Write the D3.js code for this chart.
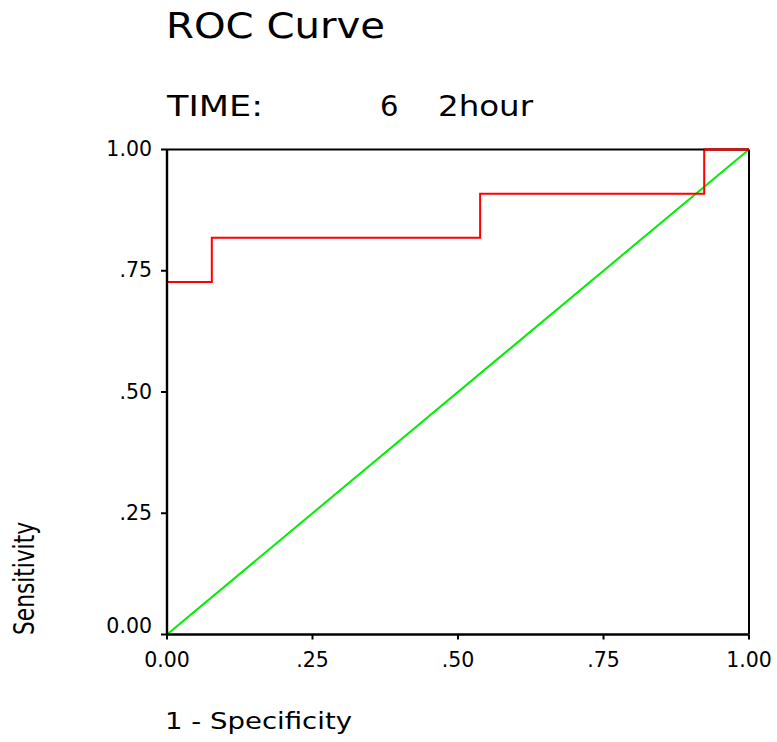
<!DOCTYPE html>
<html>
<head>
<meta charset="utf-8">
<script src="https://cdn.jsdelivr.net/npm/d3@7"></script>
<style>
  html, body { margin: 0; padding: 0; background: #fff; }
  svg { display: block; }
  text { font-family: "DejaVu Sans", Verdana, sans-serif; fill: #000; }
</style>
</head>
<body>
<script>
// ROC step curve: (1 - specificity, sensitivity) vertices
const fpr = [0.000, 0.000, 0.077, 0.077, 0.538, 0.538, 0.923, 0.923, 1.000];
const tpr = [0.000, 0.727, 0.727, 0.818, 0.818, 0.909, 0.909, 1.000, 1.000];

// Chance diagonal
const refX = [0, 1];
const refY = [0, 1];

// Axis ticks and their labels
const tickValues = [0, 0.25, 0.5, 0.75, 1];
const tickLabels = ["0.00", ".25", ".50", ".75", "1.00"];

const W = 777, H = 742;
const svg = d3.select("body").append("svg").attr("width", W).attr("height", H);

const x = d3.scaleLinear().domain([0, 1]).range([167, 749]);
const y = d3.scaleLinear().domain([0, 1]).range([634.5, 149.5]);
const fmt = d => tickLabels[tickValues.indexOf(d)];

// Titles
svg.append("text").attr("x", 166).attr("y", 38)
  .attr("font-size", 35).attr("textLength", 219).attr("lengthAdjust", "spacingAndGlyphs")
  .text("ROC Curve");
svg.append("text").attr("x", 167).attr("y", 116)
  .attr("font-size", 29).attr("textLength", 96).attr("lengthAdjust", "spacingAndGlyphs")
  .text("TIME:");
svg.append("text").attr("x", 380).attr("y", 116)
  .attr("font-size", 29)
  .text("6");
svg.append("text").attr("x", 438).attr("y", 116)
  .attr("font-size", 29).attr("textLength", 95).attr("lengthAdjust", "spacingAndGlyphs")
  .text("2hour");

// Curves
const line = d3.line().x(d => x(d[0])).y(d => y(d[1]));

svg.append("path")
  .datum(refX.map((v, i) => [v, refY[i]]))
  .attr("d", line)
  .attr("fill", "none").attr("stroke", "#00ee00").attr("stroke-width", 2);

svg.append("path")
  .datum(fpr.map((v, i) => [v, tpr[i]]))
  .attr("d", line)
  .attr("fill", "none").attr("stroke", "#ff0000").attr("stroke-width", 2);

// Frame: top and right borders
svg.append("line").attr("x1", x(0)).attr("x2", x(1)).attr("y1", y(1)).attr("y2", y(1))
  .attr("stroke", "#000").attr("stroke-width", 2);
svg.append("line").attr("x1", x(1)).attr("x2", x(1)).attr("y1", y(0)).attr("y2", y(1))
  .attr("stroke", "#000").attr("stroke-width", 2);
// red segment riding on the top border
svg.append("path")
  .datum(fpr.map((v, i) => [v, tpr[i]]).filter(d => d[1] === 1))
  .attr("d", line)
  .attr("fill", "none").attr("stroke", "#ff0000").attr("stroke-width", 2);

// Axes
const gx = svg.append("g").attr("transform", `translate(0,${y(0)})`)
  .call(d3.axisBottom(x).tickValues(tickValues).tickFormat(fmt).tickSize(5).tickPadding(12.5).tickSizeOuter(0).offset(0));
const gy = svg.append("g").attr("transform", `translate(${x(0)},0)`)
  .call(d3.axisLeft(y).tickValues(tickValues).tickFormat(fmt).tickSize(6).tickPadding(9).tickSizeOuter(0).offset(0));

[gx, gy].forEach(g => {
  g.select(".domain").attr("stroke", "#000").attr("stroke-width", 2.4);
  g.selectAll(".tick line").attr("stroke", "#000").attr("stroke-width", 2);
  g.selectAll(".tick text").attr("font-size", 20.5).attr("font-family", "DejaVu Sans, Verdana, sans-serif").attr("fill", "#000");
});
// bottom y label sits just above the x axis
gy.selectAll(".tick text").filter(d => d === 0).attr("dy", "-0.08em");

// Axis titles
svg.append("text").attr("x", 165).attr("y", 729)
  .attr("font-size", 22.5).attr("textLength", 187).attr("lengthAdjust", "spacingAndGlyphs")
  .text("1 - Specificity");
svg.append("text")
  .attr("transform", "translate(34,578.5) rotate(-90)")
  .attr("text-anchor", "middle")
  .attr("font-size", 28).attr("textLength", 113).attr("lengthAdjust", "spacingAndGlyphs")
  .text("Sensitivity");
</script>
</body>
</html>
